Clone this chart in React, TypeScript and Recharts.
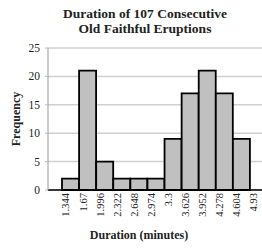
import { BarChart, Bar, XAxis, YAxis, CartesianGrid } from 'recharts';

const binEdges = ['1.344', '1.67', '1.996', '2.322', '2.648', '2.974', '3.3', '3.626', '3.952', '4.278', '4.604', '4.93'];
const frequencies = [2, 21, 5, 2, 2, 2, 9, 17, 21, 17, 9];
const yTicks = [0, 5, 10, 15, 20, 25];

// bars sit at bin centres on an index scale, edges are the ticks
const data = frequencies.map((count, i) => ({ mid: i + 0.5, count }));
const edgeTicks = binEdges.map((_, i) => i);

const serif = '"Liberation Serif", "DejaVu Serif", serif';

export default function App() {
  return (
    <div style={{ position: 'absolute', left: 0, top: 0, width: 262, height: 248, background: '#fff' }}>
      <div
        style={{
          position: 'absolute',
          left: 0,
          top: 6,
          width: 262,
          paddingLeft: 28,
          boxSizing: 'border-box',
          textAlign: 'center',
          fontFamily: serif,
          fontWeight: 'bold',
          fontSize: 13.5,
          lineHeight: '15px',
          color: '#222',
        }}
      >
        Duration of 107 Consecutive
        <br />
        Old Faithful Eruptions
      </div>
      <BarChart
        width={262}
        height={248}
        data={data}
        barCategoryGap={0}
        margin={{ top: 48, right: 0, bottom: 0, left: 0 }}
      >
        <CartesianGrid vertical={false} stroke="#d0d0d0" strokeWidth={1.5} />
        <XAxis
          dataKey="mid"
          type="number"
          domain={[0, binEdges.length - 1]}
          ticks={edgeTicks}
          tickFormatter={(i: number) => binEdges[i]}
          padding={{ left: 14, right: 12 }}
          height={58}
          interval={0}
          angle={-90}
          textAnchor="end"
          tickSize={0}
          tickMargin={3}
          axisLine={{ stroke: '#000', strokeWidth: 1.5 }}
          tick={{ fill: '#222', fontSize: 10.5, fontFamily: serif, dx: 0 }}
          label={{
            value: 'Duration (minutes)',
            position: 'insideBottom',
            offset: 9,
            dx: -16,
            style: { fill: '#222', fontSize: 12, fontWeight: 'bold', fontFamily: serif },
          }}
        />
        <YAxis
          width={48}
          domain={[0, 25]}
          ticks={yTicks}
          tickSize={3}
          tickMargin={5}
          axisLine={{ stroke: '#999' }}
          tickLine={{ stroke: '#bbb' }}
          tick={{ fill: '#222', fontSize: 11.5, fontFamily: serif }}
          label={{
            value: 'Frequency',
            angle: -90,
            position: 'insideLeft',
            offset: 16,
            style: { textAnchor: 'middle', fill: '#222', fontSize: 12, fontWeight: 'bold', fontFamily: serif },
          }}
        />
        <Bar dataKey="count" fill="#c0c0c0" stroke="#000" strokeWidth={1.8} isAnimationActive={false} />
      </BarChart>
    </div>
  );
}
